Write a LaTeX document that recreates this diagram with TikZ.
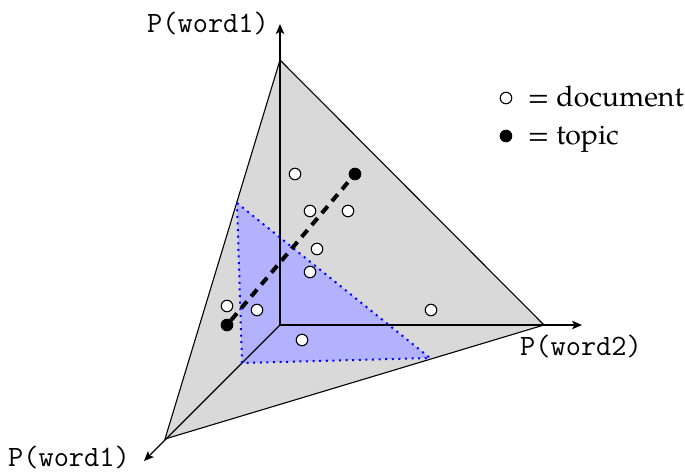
\documentclass[tikz,border=0pt]{standalone}
\usepackage{fontspec}
\setmainfont{TeX Gyre Pagella}
\usetikzlibrary{arrows.meta}
\begin{document}
\begin{tikzpicture}
[x=1pt,y=-1pt, line width=1.1pt, doc node/.style={circle,draw,fill=white,inner sep=0pt,minimum size=11.5pt},
topic node/.style={circle,draw,fill=black,inner sep=0pt,minimum size=11.5pt},
axis line/.style={-{Stealth[length=10pt,width=8.5pt,inset=2.5pt]}},
axis label/.style={font=\fontsize{29.5}{32}\ttfamily,inner sep=0pt,anchor=base},
key label/.style={font=\fontsize{28.5}{32}\selectfont,inner sep=0pt,anchor=base west}]
\useasboundingbox (0,0) rectangle (685,472);
\coordinate (o) at (280,325);
\coordinate (top) at (280,60);
\coordinate (right) at (544,325);
\coordinate (left) at (165,439);
\coordinate (p1) at (237,203);
\coordinate (p2) at (430,358);
\coordinate (p3) at (242,363);
\coordinate (xtip) at (280,24);
\coordinate (ytip) at (582,325);
\coordinate (ztip) at (144,461);

\fill[black!15] (top) -- (right) -- (left) -- cycle;
\fill[blue!30] (p1) -- (p2) -- (p3) -- cycle;
\draw (top) -- (right) -- (left) -- cycle;
\draw[axis line] (o) -- (xtip);
\draw[axis line] (o) -- (ytip);
\draw[axis line] (o) -- (ztip);
\draw[blue,line width=2pt,dash pattern=on 2pt off 4.6pt] (p1) -- (p2) -- (p3) -- cycle;

\node[topic node] (t1) at (355,174) {};
\node[topic node] (t2) at (227,325) {};
\draw[line width=4pt,dash pattern=on 9pt off 6.6pt] (t2) -- (t1);

\node[doc node] (d1) at (295,174) {};
\node[doc node] (d2) at (310,211) {};
\node[doc node] (d3) at (348,211) {};
\node[doc node] (d4) at (317,249) {};
\node[doc node] (d5) at (310,272) {};
\node[doc node] (d6) at (227,306) {};
\node[doc node] (d7) at (257,310) {};
\node[doc node] (d8) at (431,310) {};
\node[doc node] (d9) at (302,340) {};

\node[axis label] (lx) at (208,32) {P(word1)};
\node[axis label] (ly) at (581,355) {P(word2)};
\node[axis label] (lz) at (69,466) {P(word1)};

\node[doc node] (k1) at (506,98) {};
\node[topic node] (k2) at (506,136) {};
\node[key label] (kt1) at (527,106) {= document};
\node[key label] (kt2) at (527,144) {= topic};
\end{tikzpicture}
\end{document}
